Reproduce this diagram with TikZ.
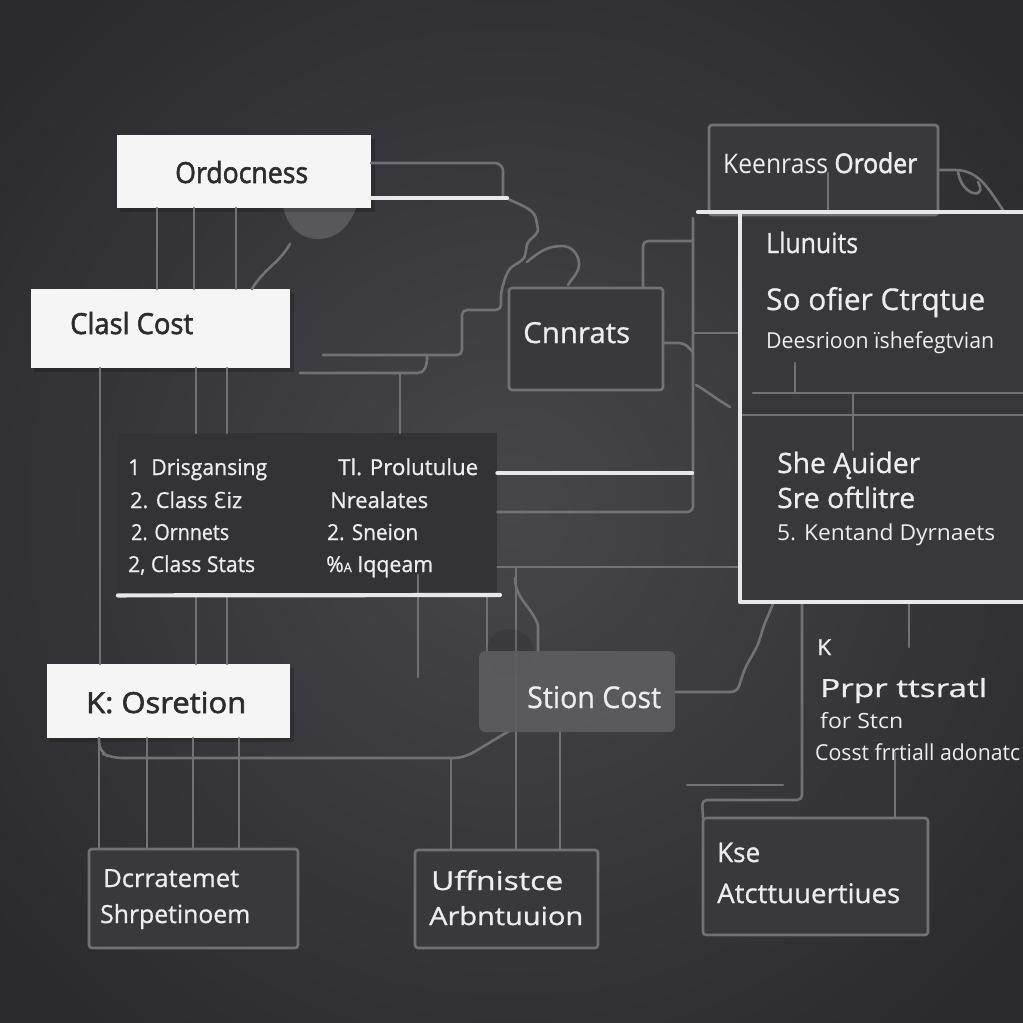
\documentclass[tikz,border=0pt]{standalone}
\usepackage{graphicx}
\usepackage{fontspec}
\setmainfont{Open Sans}
\newfontfamily\djv{DejaVu Sans}
\newfontfamily\medA{Open Sans}[FakeBold=2]
\newfontfamily\medB{Open Sans}[FakeBold=0.8]
\usetikzlibrary{calc,shadows}
\definecolor{bgin}{HTML}{47474B}
\definecolor{bgout}{HTML}{2B2B2F}
\definecolor{lncol}{HTML}{727276}
\definecolor{wcol}{HTML}{E8E8E8}
\definecolor{wfill}{HTML}{F5F5F5}
\definecolor{dfill}{HTML}{39393D}
\definecolor{lfill}{HTML}{333337}
\definecolor{pfill}{HTML}{38383C}
\definecolor{sfill}{HTML}{5E5E62}
\definecolor{dtext}{HTML}{2C2C2C}
\definecolor{ltext}{HTML}{EDEDED}
\definecolor{blobc}{HTML}{58585C}
\newcommand\T[3]{{\fontsize{#1}{#1}\selectfont\resizebox{#2pt}{\height}{#3}}}
\tikzset{
  ln/.style={draw=lncol, line width=2.6pt, line cap=round, line join=round},
  wln/.style={draw=wcol, line width=4.2pt, line cap=round, line join=round},
  wbox/.style={fill=wfill, draw=none, anchor=north west, inner sep=0pt, outer sep=0pt},
  dbox/.style={fill=dfill, draw=lncol, line width=2.6pt, rounded corners=3pt, anchor=north west, inner sep=0pt, outer sep=0pt},
  dtxt/.style={anchor=base west, inner sep=0pt, text=dtext, font=\medA},
  ltxt/.style={anchor=base west, inner sep=0pt, text=ltext, font=\medB}
}
\begin{document}
\begin{tikzpicture}[x=1pt,y=-1pt]
\useasboundingbox (0,0) rectangle (1023,1023);
\shade[inner color=bgin, outer color=bgout] (-150,-150) rectangle (1173,1173);

\fill[blobc] (283,206) to[out=-80,in=180] (318,239) to[out=0,in=-110] (357,206) -- cycle;

% ---- boxes ----
\fill[black, opacity=0.18] (120,139) rectangle (375,212);
\fill[black, opacity=0.18] (34,293) rectangle (294,372);
\fill[black, opacity=0.18] (50,668) rectangle (294,742);
\node[wbox, minimum width=254pt, minimum height=73pt] (ord) at (117,135) {};
\node[wbox, minimum width=259pt, minimum height=79pt] (cls) at (31,289) {};
\node[fill=lfill, draw=none, anchor=north west, inner sep=0pt, minimum width=379pt, minimum height=164pt] (lst) at (118,433) {};
\node[wbox, minimum width=243pt, minimum height=74pt] (kos) at (47,664) {};
\node[fill=pfill, draw=none, anchor=north west, inner sep=0pt, minimum width=290pt, minimum height=390pt] (rp) at (740,212) {};
\node[dbox, minimum width=229pt, minimum height=90pt] (keen) at (709,125) {};
\node[dbox, minimum width=154pt, minimum height=102pt] (cnr) at (509,288) {};
\node[dbox, minimum width=209pt, minimum height=99pt] (dcr) at (89,849) {};
\node[dbox, minimum width=183pt, minimum height=98pt] (uff) at (415,850) {};
\node[dbox, minimum width=225pt, minimum height=117pt] (kse) at (703,818) {};

% ---- gray connectors ----
\draw[ln] (ord.south -| 157,0) -- (cls.north -| 157,0);
\draw[ln] (ord.south -| 194,0) -- (cls.north -| 194,0);
\draw[ln] (ord.south -| 236,0) -- (cls.north -| 236,0);
\draw[ln] (290,244) to[out=-120,in=60] (cls.north -| 252,0);
\draw[ln] (cls.south -| 100,0) -- (kos.north -| 100,0);
\draw[ln] (cls.south -| 196,0) -- (lst.north -| 196,0);
\draw[ln] (cls.south -| 227,0) -- (lst.north -| 227,0);
\draw[ln] (lst.south -| 196,0) -- (kos.north -| 196,0);
\draw[ln] (lst.south -| 227,0) -- (kos.north -| 227,0);
\draw[ln] (kos.south -| 99,0) -- (dcr.north -| 99,0);
\draw[ln] (kos.south -| 147,0) -- (dcr.north -| 147,0);
\draw[ln] (kos.south -| 193,0) -- (dcr.north -| 193,0);
\draw[ln] (kos.south -| 239,0) -- (dcr.north -| 239,0);
\draw[ln, rounded corners=10pt] (kos.south -| 99,0) -- (99,752) -- (112,758) -- (464,758) -- (509,731);
\coordinate (j1) at (451,758);
\draw[ln] (j1) -- (uff.north -| 451,0);
\draw[ln] (418,575) -- (418,677);
\draw[ln] (lst.south -| 487,0) -- (487,651);
\draw[ln] (515,578) to[out=-90,in=110] (538,625) -- (538,651);
\draw[ln] (516,567) -- (uff.north -| 516,0);
\draw[ln] (560,731) -- (uff.north -| 560,0);
\fill[black, opacity=0.10] (510,653) circle (24pt);
\node[fill=sfill, fill opacity=0.88, draw=none, rounded corners=6pt, anchor=north west, inner sep=0pt, minimum width=196pt, minimum height=81pt] (sti) at (479,651) {};
\draw[ln, rounded corners=6pt] (sti.east |- 0,692) -- (737,692) -- (745,668) -- (758,645) -- (764,625) -- (773,604);
\draw[ln] (687,785) -- (783,785);
\draw[ln, rounded corners=5pt] (802,604) -- (802,800) -- (702,800) -- (kse.north west);
\draw[ln] (909,604) -- (909,647);
\draw[ln] (895,753) -- (kse.north -| 895,0);

\draw[ln, rounded corners=8pt] (ord.east |- 0,163) -- (503,163) -- (503,196);
\draw[ln, rounded corners=5pt] (508,199) to[out=-25,in=100] (537,224) to[out=-80,in=80] (526,250) to[out=-100,in=60] (506,275) -- (501,292) -- (501,310) -- (462,310) -- (462,355) -- (323,355);
\draw[ln] (527,262) to[out=40,in=180] (562,246) to[out=0,in=90] (579,264) to[out=-90,in=60] (568,285);
\draw[ln, rounded corners=5pt] (300,373) -- (423,373) -- (427,364) -- (427,355);
\draw[ln] (400,373) -- (lst.north -| 400,0);
\draw[ln, rounded corners=5pt] (cnr.north -| 643,0) -- (643,241) -- (693,241);
\draw[ln, rounded corners=6pt] (693,218) -- (693,512) -- (lst.east |- 0,512);
\draw[ln] (lst.east |- 0,567) -- (rp.west |- 0,567);
\draw[ln, rounded corners=5pt] (cnr.east |- 0,343) -- (684,343) -- (693,352);
\draw[ln] (693,333) -- (rp.west |- 0,333);
\draw[ln] (696,385) to[out=-30,in=150] (730,407);
\draw[ln] (753,393) -- (1030,393);
\draw[ln] (rp.west |- 0,415) -- (1030,415);
\draw[ln] (795,363) -- (795,393);
\draw[ln] (853,393) -- (853,450);
\draw[ln] (828,173) -- (828,210);
\draw[ln] (keen.east |- 0,170) -- (955,170) to[out=0,in=125] (1003,210);
\draw[ln] (958,172) .. controls (962,197) and (988,200) .. (978,182);

% white lines
\draw[wln] (ord.east |- 0,198) -- (507,198);
\draw[wln] (lst.east |- 0,473) -- (692,473);
\draw[wln] (lst.south west) ++(0,-2) -- (500,595);
\draw[wln] (698,212) -- (1030,212);
\draw[wln] (rp.north west) -- (rp.south west |- 0,602) -- (1030,602);

% ---- texts ----
\node[dtxt] (t-ord) at (175,183) {\T{29}{133}{Ordocness}};
\node[dtxt] (t-cls) at (70,334) {\T{29}{123}{Clasl Cost}};
\node[ltxt] (t-cnr) at (523,343) {\T{29}{107}{Cnnrats}};
\node[ltxt] (t-keen) at (723,173) {\T{27}{194}{{\fontspec{Open Sans}Keenrass} {\medA Oroder}}};
\node[ltxt] (t-llu) at (766,253) {\T{28}{92}{Llunuits}};
\node[ltxt] (t-so) at (766,310) {\T{30}{219}{So ofier Ctrqtue}};
\node[ltxt] (t-dee) at (766,348) {\T{22}{228}{{\fontspec{Open Sans}Deesrioon ïshefegtvian}}};
\node[ltxt] (t-she) at (777,473) {\T{28}{143}{She Ąuider}};
\node[ltxt] (t-sre) at (777,508) {\T{28}{138}{Sre oftlitre}};
\node[ltxt] (t-ken) at (777,540) {\T{22}{218}{{\fontspec{Open Sans}5. Kentand Dyrnaets}}};

\node[ltxt] (l1) at (128,475) {\T{22}{139}{1\ \ Drisgansing}};
\node[ltxt] (l2) at (130,508) {\T{22}{112}{2. Class {\djv Ɛ}iz}};
\node[ltxt] (l3) at (131,540) {\T{22}{98}{2. Ornnets}};
\node[ltxt] (l4) at (128,572) {\T{22}{127}{2, Class Stats}};
\node[ltxt] (r1) at (338,475) {\T{22}{140}{Tl. Prolutulue}};
\node[ltxt] (r2) at (330,508) {\T{22}{98}{Nrealates}};
\node[ltxt] (r3) at (327,540) {\T{22}{91}{2. Sneion}};
\node[ltxt] (r4) at (326,572) {\T{22}{107}{\%{\fontsize{13}{13}\selectfont A} Iqqeam}};

\node[dtxt] (t-kos) at (86,713) {\T{29}{160}{K: Osretion}};
\node[ltxt] (t-sti) at (527,708) {\T{30}{134}{Stion Cost}};
\node[ltxt] (t-d1) at (103,887) {\T{25}{136}{Dcrratemet}};
\node[ltxt] (t-d2) at (100,923) {\T{25}{150}{Shrpetinoem}};
\node[ltxt] (t-u1) at (431,890) {\T{26}{132}{Uffnistce}};
\node[ltxt] (t-u2) at (429,925) {\T{25}{154}{Arbntuuion}};
\node[ltxt] (t-k) at (817,655) {\T{22}{14}{K}};
\node[ltxt] (t-p) at (820,697) {\T{25}{167}{Prpr ttsratl}};
\node[ltxt] (t-f) at (820,728) {\T{21}{83}{{\fontspec{Open Sans}for Stcn}}};
\node[ltxt] (t-c) at (815,760) {\T{22}{205}{{\fontspec{Open Sans}Cosst frrtiall adonatc}}};
\node[ltxt] (t-kse) at (717,862) {\T{27}{43}{Kse}};
\node[ltxt] (t-att) at (717,903) {\T{27}{183}{Atcttuuertiues}};
\end{tikzpicture}
\end{document}
